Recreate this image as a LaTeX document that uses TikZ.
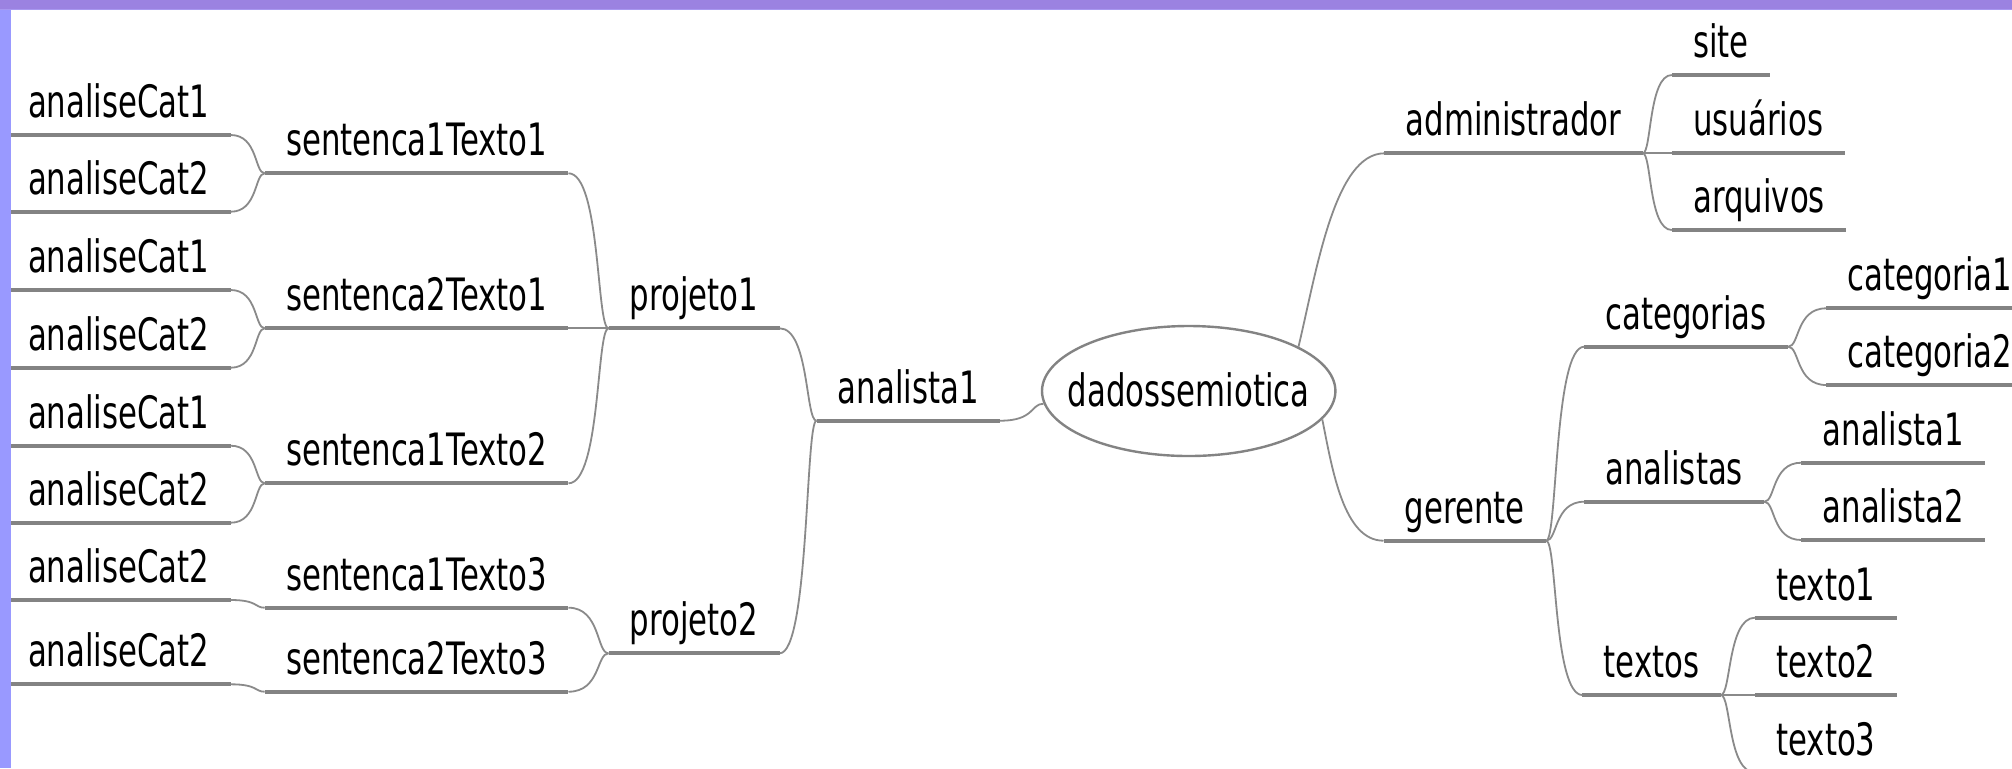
\documentclass[tikz,border=0pt]{standalone}
\usepackage{fontspec}
\newfontfamily\mmfont[FakeStretch=0.69]{DejaVu Sans}
\usetikzlibrary{calc,shapes.geometric}
\definecolor{bandtop}{HTML}{9B82E1}
\definecolor{bandline}{HTML}{A898F0}
\definecolor{bandleft}{HTML}{9999FF}
\definecolor{forkgray}{HTML}{838383}
\definecolor{edgegray}{HTML}{8A8A8A}

\tikzset{
  mm/.style={font=\mmfont\fontsize{22.3}{26}\selectfont, inner xsep=10.5pt,
    inner ysep=0pt, text height=17pt, text depth=8.5pt, anchor=south west},
  fork/.style={draw=forkgray, line width=2pt},
  edge/.style={draw=edgegray, line width=0.9pt},
  rootnode/.style={ellipse, draw=forkgray, line width=1.2pt, fill=white,
    minimum width=146.7pt, minimum height=65pt, inner xsep=-12pt, inner ysep=0pt,
    text height=20pt, text depth=5pt,
    font=\mmfont\fontsize{22.3}{26}\selectfont}
}

% topic node: text sitting on its fork line (left end x, line y)
\newcommand\mnode[4]{\node[mm] (#1) at (#2,-#3) {#4};}
% branch on the left side: child end -> parent junction
\newcommand\ledge[2]{\draw[edge] let \p1=(#1), \p2=(#2) in (\p1) .. controls ({\x1+0.8*(\x2-\x1)},\y1) and ({\x2-0.3*(\x2-\x1)},\y2) .. (\p2);}
% branch on the right side: parent junction -> child start
\newcommand\redge[2]{\draw[edge] let \p1=(#1), \p2=(#2) in (\p1) .. controls ({\x1+0.3*(\x2-\x1)},\y1) and ({\x2-0.8*(\x2-\x1)},\y2) .. (\p2);}

\begin{document}
\begin{tikzpicture}[x=0.5pt, y=0.5pt]
\useasboundingbox (0,0) rectangle (2012,-768);
\fill[white] (0,0) rectangle (2012,-768);

% central topic
\node[rootnode] (root) at (1188.7,-391) {dadossemiotica};

% left branch
\mnode{A1}{6.7}{135}{analiseCat1}
\mnode{A2}{6.7}{211.7}{analiseCat2}
\mnode{S1}{264.7}{173.3}{sentenca1Texto1}
\mnode{A3}{6.7}{290}{analiseCat1}
\mnode{A4}{6.7}{367.7}{analiseCat2}
\mnode{S2}{264.7}{328.3}{sentenca2Texto1}
\mnode{A5}{6.7}{445.7}{analiseCat1}
\mnode{A6}{6.7}{522.7}{analiseCat2}
\mnode{S3}{264.7}{483.3}{sentenca1Texto2}
\mnode{A7}{6.7}{600}{analiseCat2}
\mnode{S4}{264.7}{607.7}{sentenca1Texto3}
\mnode{A8}{6.7}{684.3}{analiseCat2}
\mnode{S5}{264.7}{691.7}{sentenca2Texto3}
\mnode{P1}{608.5}{328.3}{projeto1}
\mnode{P2}{608.5}{653.3}{projeto2}
\mnode{AN}{816.5}{420.7}{analista1}

% right branches
\mnode{ADM}{1384.4}{153.3}{administrador}
\mnode{SITE}{1671.8}{75}{site}
\mnode{USU}{1671.8}{153.3}{usuários}
\mnode{ARQ}{1671.8}{230}{arquivos}
\mnode{GER}{1383.5}{540.7}{gerente}
\mnode{CATS}{1584.2}{346.7}{categorias}
\mnode{CAT1}{1826.2}{308.3}{categoria1}
\mnode{CAT2}{1826.2}{385}{categoria2}
\mnode{ANS}{1584.2}{501.7}{analistas}
\mnode{AN1}{1801.3}{462.7}{analista1}
\mnode{AN2}{1801.3}{540}{analista2}
\mnode{TXS}{1582.4}{695}{textos}
\mnode{T1}{1754.9}{617.7}{texto1}
\mnode{T2}{1754.9}{695}{texto2}
\mnode{T3}{1754.9}{772.4}{texto3}

% fork lines under every topic
\foreach \n in {A1,A2,A3,A4,A5,A6,A7,A8,S1,S2,S3,S4,S5,P1,P2,AN,
                ADM,SITE,USU,ARQ,GER,CATS,CAT1,CAT2,ANS,AN1,AN2,TXS,T1,T2,T3}
  \draw[fork] (\n.south west) -- (\n.south east);

% connectors, left side
\ledge{A1.south east}{S1.south west}
\ledge{A2.south east}{S1.south west}
\ledge{A3.south east}{S2.south west}
\ledge{A4.south east}{S2.south west}
\ledge{A5.south east}{S3.south west}
\ledge{A6.south east}{S3.south west}
\ledge{A7.south east}{S4.south west}
\ledge{A8.south east}{S5.south west}
\ledge{S1.south east}{P1.south west}
\ledge{S2.south east}{P1.south west}
\ledge{S3.south east}{P1.south west}
\ledge{S4.south east}{P2.south west}
\ledge{S5.south east}{P2.south west}
\ledge{P1.south east}{AN.south west}
\ledge{P2.south east}{AN.south west}
\ledge{AN.south east}{root.185}

% connectors, right side
\draw[edge] (root.22) .. controls +(18,75) and +(-50,0) .. (ADM.south west);
\draw[edge] (root.-12) .. controls +(10,-50) and +(-40,0) .. (GER.south west);
\redge{ADM.south east}{SITE.south west}
\redge{ADM.south east}{USU.south west}
\redge{ADM.south east}{ARQ.south west}
\redge{GER.south east}{CATS.south west}
\redge{GER.south east}{ANS.south west}
\redge{GER.south east}{TXS.south west}
\redge{CATS.south east}{CAT1.south west}
\redge{CATS.south east}{CAT2.south west}
\redge{ANS.south east}{AN1.south west}
\redge{ANS.south east}{AN2.south west}
\redge{TXS.south east}{T1.south west}
\redge{TXS.south east}{T2.south west}
\redge{TXS.south east}{T3.south west}

% frame bands
\fill[bandleft] (0,-10) rectangle (11,-768);
\fill[bandtop] (0,0) rectangle (2012,-9);
\fill[bandline] (0,-9) rectangle (2012,-10);
\end{tikzpicture}
\end{document}
